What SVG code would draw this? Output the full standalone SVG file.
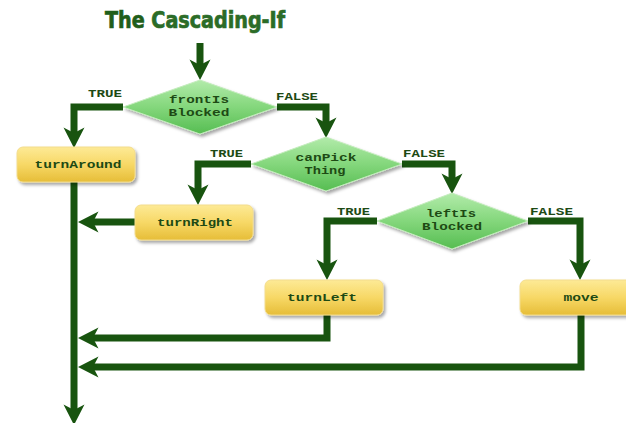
<svg xmlns="http://www.w3.org/2000/svg" width="626" height="423" viewBox="0 0 626 423">
  <style>
    .title { font-family: "Liberation Sans Narrow", "DejaVu Sans Condensed", "Liberation Sans", sans-serif; font-weight: bold; font-size: 23px; fill: #1f5e1a; stroke: #1f5e1a; stroke-width: 0.7; }
    .node-text { font-family: "Liberation Mono", "DejaVu Sans Mono", monospace; font-weight: bold; font-size: 11.5px; fill: #1d4a14; text-anchor: middle; }
    .cond-text { font-family: "Liberation Mono", "DejaVu Sans Mono", monospace; font-weight: bold; font-size: 10.5px; fill: #1d4a14; text-anchor: middle; }
    .label { font-family: "Liberation Mono", "DejaVu Sans Mono", monospace; font-weight: bold; font-size: 10px; fill: #1d4a14; }
    .box { fill: url(#boxFill); stroke: #f3dc8c; stroke-width: 1; filter: url(#shadow); }
    .decision { fill: url(#diamondFill); stroke: #c4ecbd; stroke-width: 1; filter: url(#shadow); }
    .flow { fill: none; stroke: #18540f; stroke-width: 7; stroke-linejoin: miter; marker-end: url(#arrow); }
  </style>
  <defs>
    <linearGradient id="boxFill" x1="0" y1="0" x2="0" y2="1">
      <stop offset="0" stop-color="#fdea96"/>
      <stop offset="0.5" stop-color="#f7d866"/>
      <stop offset="1" stop-color="#e6bd38"/>
    </linearGradient>
    <linearGradient id="diamondFill" x1="0" y1="0" x2="0" y2="1">
      <stop offset="0" stop-color="#b2ebaa"/>
      <stop offset="0.5" stop-color="#84d77c"/>
      <stop offset="1" stop-color="#56bd52"/>
    </linearGradient>
    <filter id="shadow" x="-10%" y="-10%" width="130%" height="140%">
      <feDropShadow dx="2" dy="2.5" stdDeviation="1.5" flood-color="#000" flood-opacity="0.35"/>
    </filter>
    <marker id="arrow" markerUnits="userSpaceOnUse" markerWidth="22" markerHeight="24" viewBox="0 0 22 24" refX="8" refY="12" orient="auto">
      <path d="M21,12 L0.5,1.5 L6,12 L0.5,22.5 Z" fill="#18540f"/>
    </marker>
  </defs>

  <text class="title" x="105" y="28" textLength="180" lengthAdjust="spacingAndGlyphs">The <tspan fill="#2b6c27" stroke="#2b6c27">Cascading-If</tspan></text>

  <g id="connectors">
    <path class="flow" d="M200,43 V67"/>
    <path class="flow" d="M123,107 H74 V135"/>
    <path class="flow" d="M277,107 H326 V125"/>
    <path class="flow" d="M251,164 H198 V192"/>
    <path class="flow" d="M402,164 H452 V181"/>
    <path class="flow" d="M377,221 H327 V267"/>
    <path class="flow" d="M528,221 H580 V267"/>
    <path class="flow" d="M74,182 V412"/>
    <path class="flow" d="M135,222 H91"/>
    <path class="flow" d="M327,315 V338 H91"/>
    <path class="flow" d="M581,315 V367 H91"/>
  </g>

  <g id="labels">
    <text class="label" x="88" y="97" textLength="34" lengthAdjust="spacingAndGlyphs">TRUE</text>
    <text class="label" x="276" y="100" textLength="42" lengthAdjust="spacingAndGlyphs">FALSE</text>
    <text class="label" x="210" y="157" textLength="33" lengthAdjust="spacingAndGlyphs">TRUE</text>
    <text class="label" x="403" y="157" textLength="42" lengthAdjust="spacingAndGlyphs">FALSE</text>
    <text class="label" x="337" y="215" textLength="33" lengthAdjust="spacingAndGlyphs">TRUE</text>
    <text class="label" x="530" y="215" textLength="43" lengthAdjust="spacingAndGlyphs">FALSE</text>
  </g>

  <g id="frontIsBlocked">
    <polygon class="decision" points="200,80 277,107 200,134 123,107"/>
    <text class="cond-text" x="199" y="103" textLength="60" lengthAdjust="spacingAndGlyphs">frontIs</text>
    <text class="cond-text" x="199" y="116" textLength="61" lengthAdjust="spacingAndGlyphs">Blocked</text>
  </g>

  <g id="canPickThing">
    <polygon class="decision" points="326,137 402,164 326,191 251,164"/>
    <text class="cond-text" x="326" y="161" textLength="61" lengthAdjust="spacingAndGlyphs">canPick</text>
    <text class="cond-text" x="325" y="174" textLength="41" lengthAdjust="spacingAndGlyphs">Thing</text>
  </g>

  <g id="leftIsBlocked">
    <polygon class="decision" points="452,193 528,221 452,249 377,221"/>
    <text class="cond-text" x="451" y="217" textLength="50" lengthAdjust="spacingAndGlyphs">leftIs</text>
    <text class="cond-text" x="452" y="230" textLength="60" lengthAdjust="spacingAndGlyphs">Blocked</text>
  </g>

  <g id="turnAround">
    <rect class="box" x="17" y="147" width="118" height="35" rx="6"/>
    <text class="node-text" x="78" y="168" textLength="87" lengthAdjust="spacingAndGlyphs">turnAround</text>
  </g>

  <g id="turnRight">
    <rect class="box" x="135" y="205" width="118" height="35" rx="6"/>
    <text class="node-text" x="195" y="226" textLength="76" lengthAdjust="spacingAndGlyphs">turnRight</text>
  </g>

  <g id="turnLeft">
    <rect class="box" x="265" y="280" width="118" height="35" rx="6"/>
    <text class="node-text" x="322" y="301" textLength="70" lengthAdjust="spacingAndGlyphs">turnLeft</text>
  </g>

  <g id="move">
    <rect class="box" x="520" y="280" width="124" height="35" rx="6"/>
    <text class="node-text" x="581" y="301" textLength="35" lengthAdjust="spacingAndGlyphs">move</text>
  </g>
</svg>
